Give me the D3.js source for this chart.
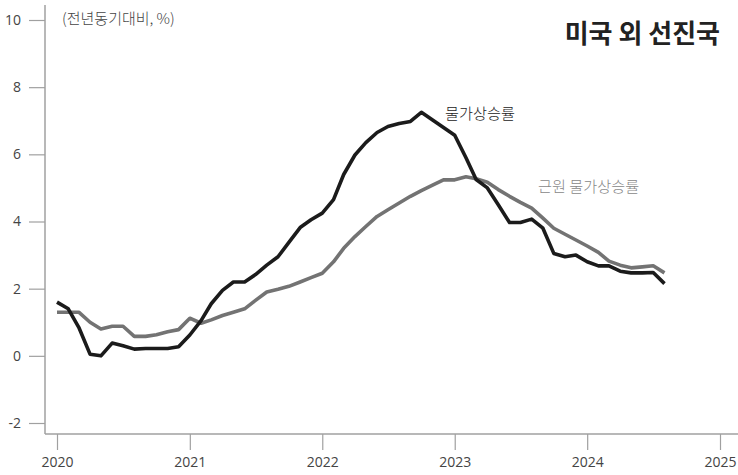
<!DOCTYPE html>
<html>
<head>
<meta charset="utf-8">
<script src="https://cdn.jsdelivr.net/npm/d3@7"></script>
<style>
  body { margin: 0; background: #fff; }
  svg text { font-family: "Noto Sans CJK KR", "Noto Sans", sans-serif; }
  svg .tick text { font-family: "Open Sans", "Noto Sans", sans-serif; }
</style>
</head>
<body>
<svg id="chart" width="738" height="475"></svg>
<script>
// monthly yoy, Jan 2020 - Aug 2024
const startMonth = "2020-01";
const headline = [
  1.6, 1.4, 0.85, 0.05, 0.0, 0.38, 0.3, 0.2, 0.22, 0.22, 0.22, 0.27,
  0.62, 1.05, 1.55, 1.95, 2.2, 2.2, 2.42, 2.7, 2.95, 3.38, 3.82, 4.05,
  4.25, 4.65, 5.4, 5.98, 6.35, 6.65, 6.83, 6.92, 6.98, 7.25, 7.02, 6.8,
  6.57, 5.9, 5.25, 5.0, 4.5, 3.97, 3.97, 4.07, 3.8, 3.05, 2.95, 3.0,
  2.8, 2.68, 2.68, 2.52, 2.47, 2.47, 2.48, 2.15
];
const core = [
  1.3, 1.3, 1.3, 1.0, 0.8, 0.88, 0.88, 0.58, 0.58, 0.63, 0.72, 0.78,
  1.12, 0.97, 1.07, 1.2, 1.3, 1.4, 1.65, 1.9, 1.98, 2.07, 2.2, 2.33,
  2.46, 2.8, 3.2, 3.55, 3.85, 4.15, 4.35, 4.55, 4.75, 4.92, 5.08, 5.24,
  5.24, 5.33, 5.27, 5.17, 4.95, 4.75, 4.57, 4.4, 4.1, 3.8, 3.62, 3.45,
  3.27, 3.08, 2.82, 2.7, 2.62, 2.65, 2.68, 2.47
];
const yearTicks = [2020, 2021, 2022, 2023, 2024, 2025];
const yTicks = [-2, 0, 2, 4, 6, 8, 10];

const svg = d3.select("#chart");
const axisColor = "#a0a0a0";
const textColor = "#444";

const parseMonth = d3.timeParse("%Y-%m");
const t0 = parseMonth(startMonth);
const dates = headline.map((_, i) => d3.timeMonth.offset(t0, i));

const x = d3.scaleTime()
  .domain([new Date(2020, 0, 1), new Date(2025, 0, 1)])
  .range([57, 720]);
const y = d3.scaleLinear().domain([-2, 10]).range([423, 20]);

const axisX = 45, axisY = 434;

// axis lines
svg.append("line")
  .attr("x1", axisX).attr("x2", axisX).attr("y1", 5).attr("y2", axisY)
  .attr("stroke", axisColor).attr("stroke-width", 1.5);
svg.append("line")
  .attr("x1", axisX).attr("x2", 738).attr("y1", axisY).attr("y2", axisY)
  .attr("stroke", axisColor).attr("stroke-width", 1.5);

// y ticks
const yg = svg.append("g")
  .attr("transform", `translate(${axisX},0)`)
  .call(d3.axisLeft(y).tickValues(yTicks).tickSize(16).tickPadding(8)
    .tickFormat(d => d < 0 ? "-" + Math.abs(d) : d));
yg.select(".domain").remove();
yg.selectAll(".tick line").attr("stroke", axisColor).attr("stroke-width", 1.2);
yg.selectAll(".tick text").attr("fill", textColor).style("font-size", "14px");

// x ticks
const xg = svg.append("g")
  .attr("transform", `translate(0,${axisY})`)
  .call(d3.axisBottom(x).tickValues(yearTicks.map(yr => new Date(yr, 0, 1)))
    .tickSize(16).tickPadding(7).tickFormat(d3.timeFormat("%Y")));
xg.select(".domain").remove();
xg.selectAll(".tick line").attr("stroke", axisColor).attr("stroke-width", 1.2);
xg.selectAll(".tick text").attr("fill", textColor).style("font-size", "14px");

// lines
const line = d3.line()
  .x((d, i) => x(dates[i]))
  .y(d => y(d));

svg.append("path")
  .datum(core)
  .attr("d", line)
  .attr("fill", "none")
  .attr("stroke", "#737373")
  .attr("stroke-width", 3.6)
  .attr("stroke-linejoin", "round");

svg.append("path")
  .datum(headline)
  .attr("d", line)
  .attr("fill", "none")
  .attr("stroke", "#1b1b1b")
  .attr("stroke-width", 3.6)
  .attr("stroke-linejoin", "round");

// texts
svg.append("text")
  .attr("x", 62).attr("y", 24)
  .attr("fill", textColor)
  .style("font-size", "15px")
  .style("font-weight", 300)
  .text("(전년동기대비, %)");

svg.append("text")
  .attr("x", 720).attr("y", 43)
  .attr("text-anchor", "end")
  .attr("fill", "#222")
  .style("font-size", "26px")
  .style("font-weight", "bold")
  .text("미국 외 선진국");

svg.append("text")
  .attr("x", 445).attr("y", 119)
  .attr("fill", "#222")
  .style("font-size", "15.2px")
  .style("font-weight", 300)
  .text("물가상승률");

svg.append("text")
  .attr("x", 538).attr("y", 192)
  .attr("fill", "#888")
  .style("font-size", "15.2px")
  .style("font-weight", 300)
  .text("근원 물가상승률");
</script>
</body>
</html>
